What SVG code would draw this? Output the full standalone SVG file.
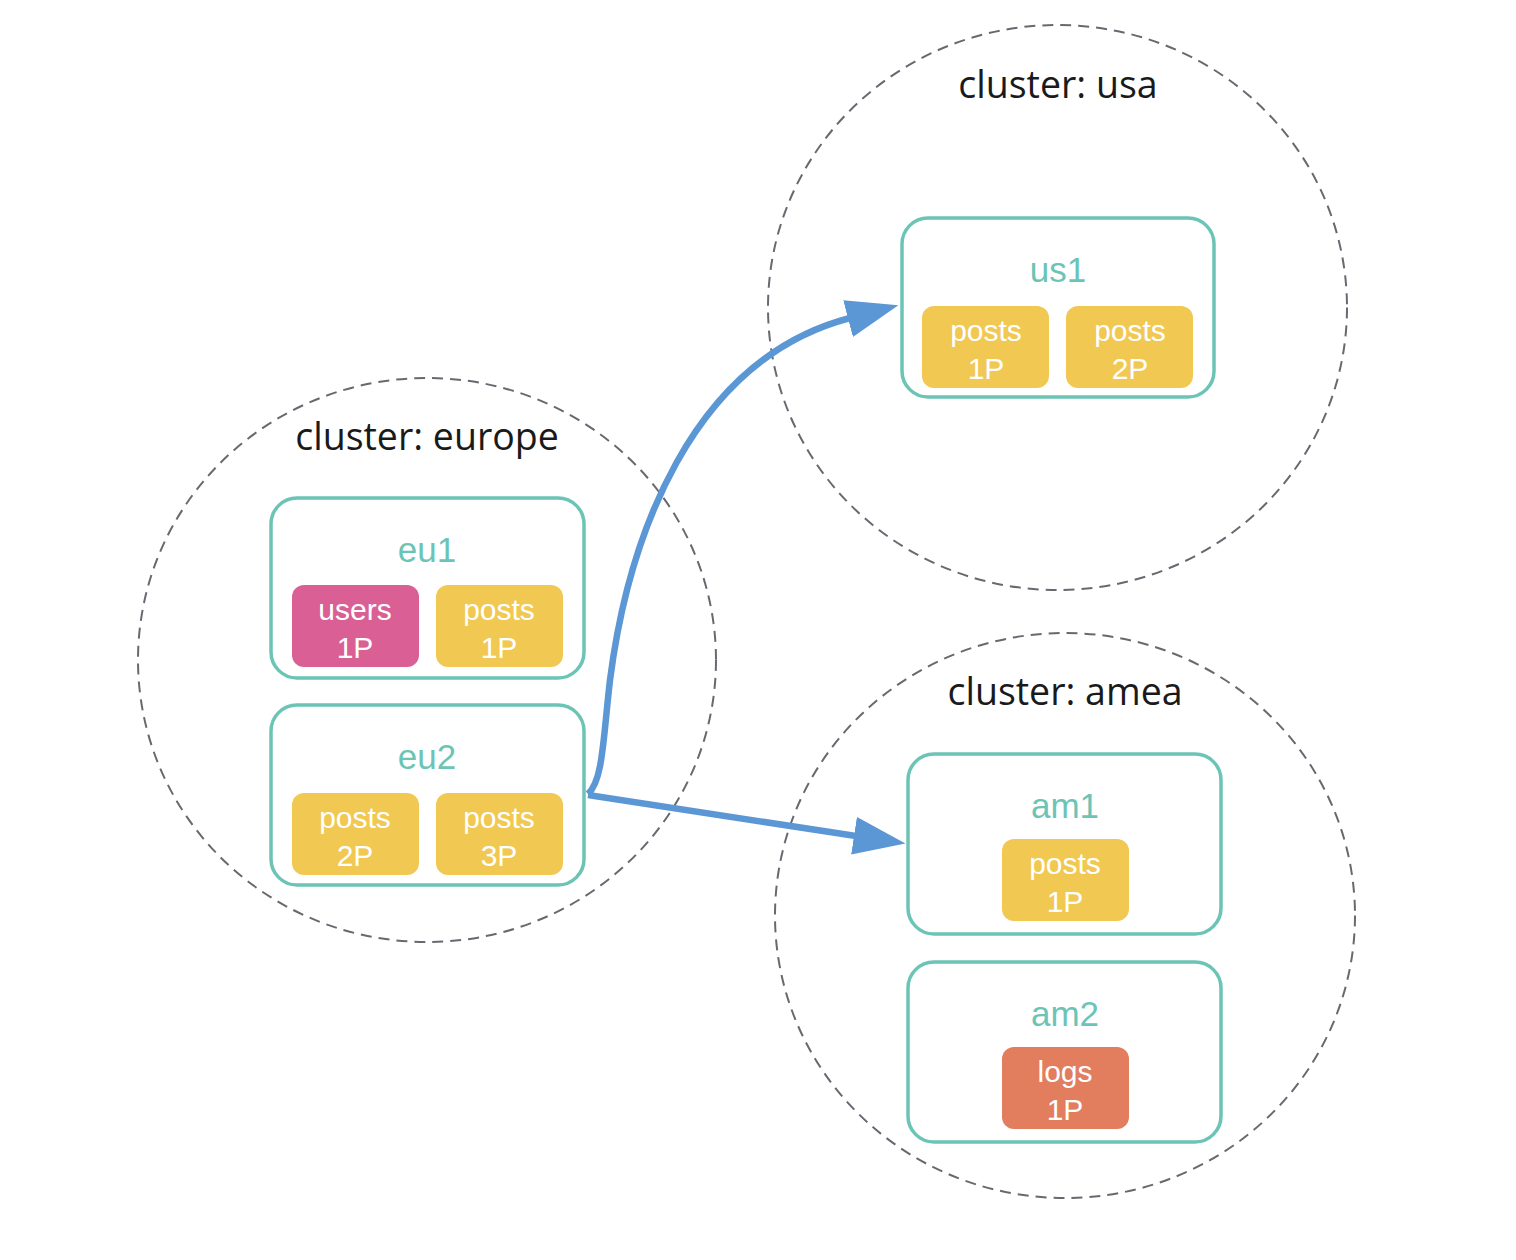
<svg xmlns="http://www.w3.org/2000/svg" width="1516" height="1260" viewBox="0 0 1516 1260">
<style>
.cluster{fill:none;stroke:#666a70;stroke-width:2;stroke-dasharray:11 7}
.clabel{font-family:"Open Sans","Noto Sans",sans-serif;font-size:37.5px;fill:#1a1a1a;text-anchor:middle}
.node{fill:#fff;stroke:#6cc4b6;stroke-width:3.5}
.nlabel{font-family:"Liberation Sans",Arial,sans-serif;font-size:35px;fill:#6cc4b6;text-anchor:middle}
.part{stroke:none}
.yellow{fill:#f1c852}
.pink{fill:#d95f95}
.orange{fill:#e27d5e}
.ptext{font-family:"Liberation Sans",Arial,sans-serif;font-size:30px;fill:#fff;text-anchor:middle}
.edge{fill:none;stroke:#5b97d5;stroke-width:6.5}
</style>
<defs>
<marker id="arr" markerUnits="userSpaceOnUse" markerWidth="54" markerHeight="38" refX="2" refY="19" orient="auto">
<path d="M0,0 L52,19 L0,38 z" fill="#5b97d5"/>
</marker>
</defs>
<rect width="1516" height="1260" fill="#fff"/>

<g id="cluster-europe">
<ellipse class="cluster" cx="427" cy="660" rx="289" ry="282"/>
<text class="clabel" x="427" y="450">cluster: europe</text>
</g>
<g id="cluster-usa">
<ellipse class="cluster" cx="1057.5" cy="307.5" rx="289.5" ry="282.5"/>
<text class="clabel" x="1058" y="98">cluster: usa</text>
</g>
<g id="cluster-amea">
<ellipse class="cluster" cx="1065" cy="915.5" rx="290" ry="282.5"/>
<text class="clabel" x="1065" y="705">cluster: amea</text>
</g>

<g id="eu1">
<rect class="node" x="271" y="498" width="313" height="180" rx="26"/>
<text class="nlabel" x="427" y="562">eu1</text>
<rect class="part pink" x="292" y="585" width="127" height="82" rx="12"/>
<text class="ptext" x="355" y="620">users</text>
<text class="ptext" x="355" y="658">1P</text>
<rect class="part yellow" x="436" y="585" width="127" height="82" rx="12"/>
<text class="ptext" x="499" y="620">posts</text>
<text class="ptext" x="499" y="658">1P</text>
</g>

<g id="eu2">
<rect class="node" x="271" y="705" width="313" height="180" rx="26"/>
<text class="nlabel" x="427" y="769">eu2</text>
<rect class="part yellow" x="292" y="793" width="127" height="82" rx="12"/>
<text class="ptext" x="355" y="828">posts</text>
<text class="ptext" x="355" y="866">2P</text>
<rect class="part yellow" x="436" y="793" width="127" height="82" rx="12"/>
<text class="ptext" x="499" y="828">posts</text>
<text class="ptext" x="499" y="866">3P</text>
</g>

<g id="us1">
<rect class="node" x="902" y="218" width="312" height="179" rx="26"/>
<text class="nlabel" x="1058" y="282">us1</text>
<rect class="part yellow" x="922" y="306" width="127" height="82" rx="12"/>
<text class="ptext" x="986" y="341">posts</text>
<text class="ptext" x="986" y="379">1P</text>
<rect class="part yellow" x="1066" y="306" width="127" height="82" rx="12"/>
<text class="ptext" x="1130" y="341">posts</text>
<text class="ptext" x="1130" y="379">2P</text>
</g>

<g id="am1">
<rect class="node" x="908" y="754" width="313" height="180" rx="26"/>
<text class="nlabel" x="1065" y="818">am1</text>
<rect class="part yellow" x="1002" y="839" width="127" height="82" rx="12"/>
<text class="ptext" x="1065" y="874">posts</text>
<text class="ptext" x="1065" y="912">1P</text>
</g>

<g id="am2">
<rect class="node" x="908" y="962" width="313" height="180" rx="26"/>
<text class="nlabel" x="1065" y="1026">am2</text>
<rect class="part orange" x="1002" y="1047" width="127" height="82" rx="12"/>
<text class="ptext" x="1065" y="1082">logs</text>
<text class="ptext" x="1065" y="1120">1P</text>
</g>

<g id="connectors">
<path class="edge" d="M588,794 C603,780 603,740 610,680 C628,540 690,360 850,318" marker-end="url(#arr)"/>
<path class="edge" d="M588,795 L856,836" marker-end="url(#arr)"/>
</g>
</svg>
